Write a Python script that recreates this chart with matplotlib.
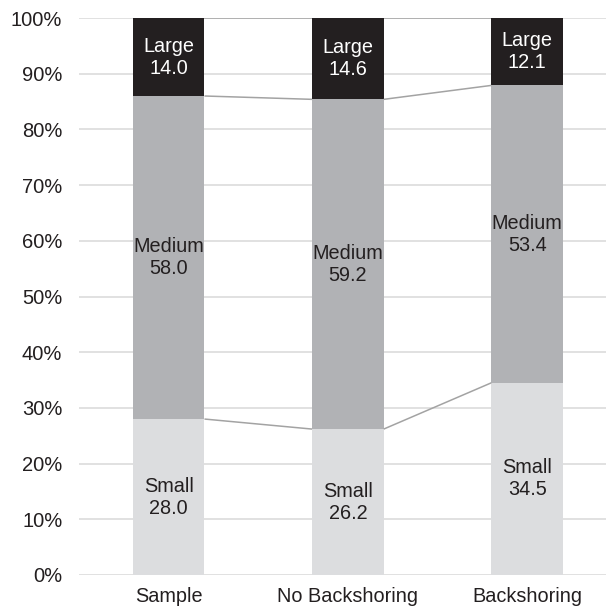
import matplotlib
matplotlib.use("Agg")
import matplotlib.pyplot as plt
import numpy as np

groups = ["Sample", "No Backshoring", "Backshoring"]
sizes = ["Small", "Medium", "Large"]
small = [28.0, 26.2, 34.5]
medium = [58.0, 59.2, 53.4]
large = [14.0, 14.6, 12.1]
yticks = [0, 10, 20, 30, 40, 50, 60, 70, 80, 90, 100]

colors = {"Small": "#dcdddf", "Medium": "#b1b2b5", "Large": "#231f20"}
text_colors = {"Small": "#231f20", "Medium": "#231f20", "Large": "#ffffff"}

plt.rcParams["font.family"] = ["Liberation Sans", "DejaVu Sans"]

fig = plt.figure(figsize=(6.06, 6.13), dpi=100)
ax = fig.add_axes([0.1304, 0.062, 0.8696, 0.9086])

x = np.arange(len(groups))
width = 0.4
series = {"Small": small, "Medium": medium, "Large": large}

bottom = np.zeros(len(groups))
tops = []
for name in sizes:
    vals = np.array(series[name])
    ax.bar(x, vals, width, bottom=bottom, color=colors[name], zorder=3)
    for xi, b, v in zip(x, bottom, vals):
        ax.text(xi, b + v / 2, f"{name}\n{v:.1f}", ha="center", va="center",
                fontsize=14.3, color=text_colors[name], linespacing=1.2, zorder=5)
    bottom = bottom + vals
    tops.append(bottom.copy())

# connector lines between stacked segment boundaries
for levels in tops:
    for i in range(len(groups) - 1):
        ax.plot([x[i] + width / 2, x[i + 1] - width / 2], [levels[i], levels[i + 1]],
                color="#a3a3a3", linewidth=1.1, zorder=4, solid_capstyle="butt")

ax.set_xlim(-0.5, 2.44)
ax.set_ylim(0, 100)
ax.set_yticks(yticks)
ax.set_yticklabels([f"{t}%" for t in yticks], fontsize=14.5, color="#231f20")
ax.set_xticks(x)
ax.set_xticklabels(groups, fontsize=14.3, color="#231f20")
ax.tick_params(axis="both", length=0)
ax.tick_params(axis="y", pad=12)
ax.tick_params(axis="x", pad=9)
ax.grid(True, axis="y", color="#d9d9d9", linewidth=1.1, zorder=0)
for s in ax.spines.values():
    s.set_visible(False)

fig.savefig("out.png", dpi=100)
